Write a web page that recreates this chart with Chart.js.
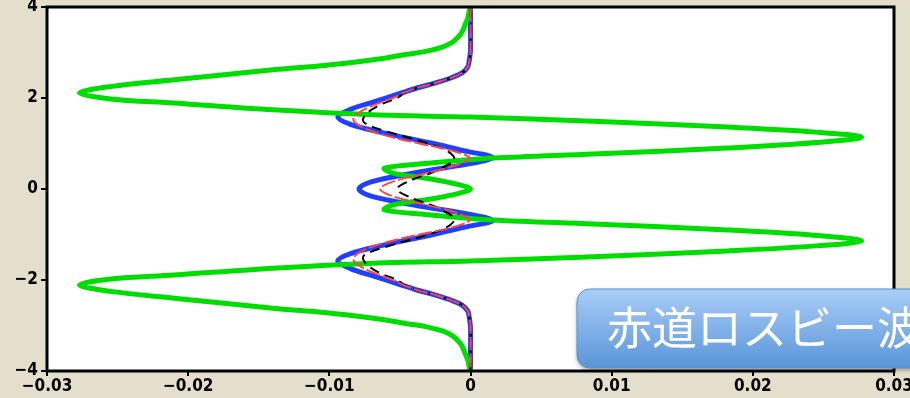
<!DOCTYPE html>
<html>
<head>
<meta charset="utf-8">
<script src="https://cdn.jsdelivr.net/npm/chart.js@4.4.1/dist/chart.umd.min.js"></script>
<style>
  html, body { margin: 0; padding: 0; background: #e3dfcc; }
  #wrap { width: 910px; height: 398px; overflow: hidden; }
</style>
</head>
<body>
<div id="wrap"><canvas id="profileChart" width="910" height="398"></canvas></div>
<script>
// values: x as a function of y for each profile
const greenY = [4, 3.9, 3.75, 3.6, 3.45, 3.33, 3.22, 3.12, 3.03, 2.96, 2.9, 2.84, 2.72, 2.62, 2.5, 2.4, 2.25, 2.11, 1.98, 1.89, 1.74, 1.63, 1.58, 1.49, 1.36, 1.25, 1.14, 1.02, 0.9, 0.77, 0.68, 0.57, 0.46, 0.35, 0.22, 0.1, 0,
  -0.1, -0.22, -0.35, -0.46, -0.57, -0.68, -0.77, -0.9, -1.02, -1.14, -1.25, -1.36, -1.49, -1.58, -1.63, -1.74, -1.89, -1.98, -2.11, -2.25, -2.4, -2.5, -2.62, -2.72, -2.84, -2.9, -2.96, -3.03, -3.12, -3.22, -3.33, -3.45, -3.6, -3.75, -3.9, -4];
const greenX = [0, -0.0001, -0.0002, -0.0004, -0.0006, -0.0009, -0.0013, -0.002, -0.0031, -0.0045, -0.0056, -0.0069, -0.0102, -0.014, -0.0178, -0.021, -0.0255, -0.0277, -0.0255, -0.021, -0.014, -0.0069, 0, 0.0087, 0.0182, 0.0245, 0.0277, 0.0245, 0.0182, 0.0087, 0.0016, -0.0028, -0.0061, -0.0055, -0.0028, -0.0009, 0,
  -0.0009, -0.0028, -0.0055, -0.0061, -0.0028, 0.0016, 0.0087, 0.0182, 0.0245, 0.0277, 0.0245, 0.0182, 0.0087, 0, -0.0069, -0.014, -0.021, -0.0255, -0.0277, -0.0255, -0.021, -0.0178, -0.014, -0.0102, -0.0069, -0.0056, -0.0045, -0.0031, -0.002, -0.0013, -0.0009, -0.0006, -0.0004, -0.0002, -0.0001, 0];

const blueY = [4, 3.5, 3.05, 2.8, 2.68, 2.55, 2.44, 2.32, 2.22, 2.1, 1.91, 1.75, 1.58, 1.42, 1.25, 1.01, 0.81, 0.75, 0.69, 0.63, 0.53, 0.35, 0.15, 0,
  -0.15, -0.35, -0.53, -0.63, -0.69, -0.75, -0.81, -1.01, -1.25, -1.42, -1.58, -1.75, -1.91, -2.1, -2.22, -2.32, -2.44, -2.55, -2.68, -2.8, -3.05, -3.5, -4];
const blueX = [0, 0, 0, -0.0001, -0.0002, -0.0006, -0.0014, -0.0026, -0.0038, -0.005, -0.0069, -0.0085, -0.0094, -0.0085, -0.0064, -0.0028, 0, 0.0011, 0.0016, 0.0011, -0.0005, -0.004, -0.0071, -0.0079,
  -0.0071, -0.004, -0.0005, 0.0011, 0.0016, 0.0011, 0, -0.0028, -0.0064, -0.0085, -0.0094, -0.0085, -0.0069, -0.005, -0.0038, -0.0026, -0.0014, -0.0006, -0.0002, -0.0001, 0, 0, 0];

const redY = [4, 3.0, 2.8, 2.68, 2.55, 2.44, 2.32, 2.22, 2.1, 2.0, 1.85, 1.7, 1.55, 1.4, 1.2, 1.0, 0.85, 0.7, 0.6, 0.45, 0.3, 0.15, 0,
  -0.15, -0.3, -0.45, -0.6, -0.7, -0.85, -1.0, -1.2, -1.4, -1.55, -1.7, -1.85, -2.0, -2.1, -2.22, -2.32, -2.44, -2.55, -2.68, -2.8, -3.0, -4];
const redX = [0, 0, -0.0001, -0.0002, -0.0006, -0.0014, -0.0026, -0.0038, -0.0048, -0.0055, -0.0068, -0.0078, -0.0083, -0.0079, -0.0063, -0.0036, -0.0014, -0.0001, -0.0004, -0.0018, -0.0038, -0.0056, -0.0064,
  -0.0056, -0.0038, -0.0018, -0.0004, -0.0001, -0.0014, -0.0036, -0.0063, -0.0079, -0.0083, -0.0078, -0.0068, -0.0055, -0.0048, -0.0038, -0.0026, -0.0014, -0.0006, -0.0002, -0.0001, 0, 0];

const blackY = [4, 3.0, 2.8, 2.68, 2.55, 2.44, 2.32, 2.22, 2.1, 2.0, 1.85, 1.7, 1.55, 1.45, 1.3, 1.03, 0.86, 0.72, 0.62, 0.5, 0.35, 0.18, 0,
  -0.18, -0.35, -0.5, -0.62, -0.72, -0.86, -1.03, -1.3, -1.45, -1.55, -1.7, -1.85, -2.0, -2.1, -2.22, -2.32, -2.44, -2.55, -2.68, -2.8, -3.0, -4];
const blackX = [0, 0, -0.0001, -0.0002, -0.0006, -0.0014, -0.0026, -0.0038, -0.0047, -0.0052, -0.0064, -0.0072, -0.0076, -0.0075, -0.0063, -0.0033, -0.0018, -0.0012, -0.0012, -0.0018, -0.0028, -0.0043, -0.0052,
  -0.0043, -0.0028, -0.0018, -0.0012, -0.0012, -0.0018, -0.0033, -0.0063, -0.0075, -0.0076, -0.0072, -0.0064, -0.0052, -0.0047, -0.0038, -0.0026, -0.0014, -0.0006, -0.0002, -0.0001, 0, 0];

const xTicks = [-0.03, -0.02, -0.01, 0, 0.01, 0.02, 0.03];
const yTicks = [-4, -2, 0, 2, 4];
const bannerText = '赤道ロスビー波';

const toPoints = (xs, ys) => xs.map((x, i) => ({ x: x, y: ys[i] }));
const minus = (s) => s.replace('-', '\u2212');

// white plot area + frame
const plotFrame = {
  id: 'plotFrame',
  beforeDatasetsDraw(chart) {
    const { ctx, chartArea: a } = chart;
    ctx.save();
    ctx.fillStyle = '#ffffff';
    ctx.fillRect(a.left, a.top, a.right - a.left, a.bottom - a.top);
    ctx.restore();
  },
  afterDatasetsDraw(chart) {
    const { ctx, chartArea: a } = chart;
    ctx.save();
    ctx.strokeStyle = '#000';
    ctx.lineWidth = 3;
    ctx.strokeRect(a.left, a.top, a.right - a.left, a.bottom - a.top);
    ctx.restore();
  },
};

// blue rounded label box in the lower right
const banner = {
  id: 'banner',
  afterDraw(chart) {
    const ctx = chart.ctx;
    const x = 577, y = 289, w = 400, h = 79, r = 13;
    ctx.save();
    ctx.shadowColor = 'rgba(0,0,0,0.35)';
    ctx.shadowBlur = 4;
    ctx.shadowOffsetY = 2;
    const g = ctx.createLinearGradient(0, y, 0, y + h);
    g.addColorStop(0, '#a9cdf8');
    g.addColorStop(1, '#5a95d8');
    ctx.fillStyle = g;
    ctx.beginPath();
    ctx.roundRect(x, y, w, h, r);
    ctx.fill();
    ctx.shadowColor = 'transparent';
    ctx.strokeStyle = '#5c8fcf';
    ctx.lineWidth = 1;
    ctx.stroke();
    ctx.fillStyle = '#ffffff';
    ctx.font = '45px "Noto Sans CJK JP"';
    ctx.textBaseline = 'middle';
    ctx.fillText(bannerText, 607, 328);
    ctx.restore();
  },
};

const tickFont = { family: '"Liberation Sans Narrow", "DejaVu Sans Condensed", sans-serif', size: 17, weight: 'bold' };

new Chart(document.getElementById('profileChart'), {
  type: 'scatter',
  data: {
    datasets: [
      { label: 'red', data: toPoints(redX, redY), borderColor: '#ff4444', borderWidth: 2, borderDash: [14, 3] },
      { label: 'black', data: toPoints(blackX, blackY), borderColor: '#000000', borderWidth: 2, borderDash: [10, 6] },
      { label: 'green', data: toPoints(greenX, greenY), borderColor: '#00dd00', borderWidth: 5 },
      { label: 'blue', data: toPoints(blueX, blueY), borderColor: '#2040ff', borderWidth: 5 },
    ].map(d => Object.assign(d, { showLine: true, pointRadius: 0, tension: 0.35, fill: false })),
  },
  options: {
    responsive: false,
    animation: false,
    layout: { padding: { top: 7, right: 16, left: 0, bottom: 0 } },
    plugins: {
      legend: { display: false },
      tooltip: { enabled: false },
    },
    scales: {
      x: {
        type: 'linear',
        min: -0.03,
        max: 0.03,
        afterBuildTicks: (s) => { s.ticks = xTicks.map(v => ({ value: v })); },
        afterFit: (s) => { s.height = 27; s.paddingLeft = 0; s.paddingRight = 0; },
        ticks: {
          color: '#000',
          font: tickFont,
          padding: 0,
          maxRotation: 0,
          autoSkip: false,
          callback: (v) => v === 0 ? '0' : minus(v.toFixed(2)),
        },
        grid: { drawOnChartArea: false, color: '#000', lineWidth: 2, tickLength: 5 },
        border: { display: false },
      },
      y: {
        type: 'linear',
        min: -4,
        max: 4,
        afterBuildTicks: (s) => { s.ticks = yTicks.map(v => ({ value: v })); },
        afterFit: (s) => { s.width = 47; s.paddingTop = 0; s.paddingBottom = 0; },
        ticks: {
          color: '#000',
          font: tickFont,
          padding: 3,
          autoSkip: false,
          callback: (v) => minus(String(v)),
        },
        grid: { drawOnChartArea: false, color: '#000', lineWidth: 2, tickLength: 6 },
        border: { display: false },
      },
    },
  },
  plugins: [plotFrame, banner],
});
</script>
</body>
</html>
